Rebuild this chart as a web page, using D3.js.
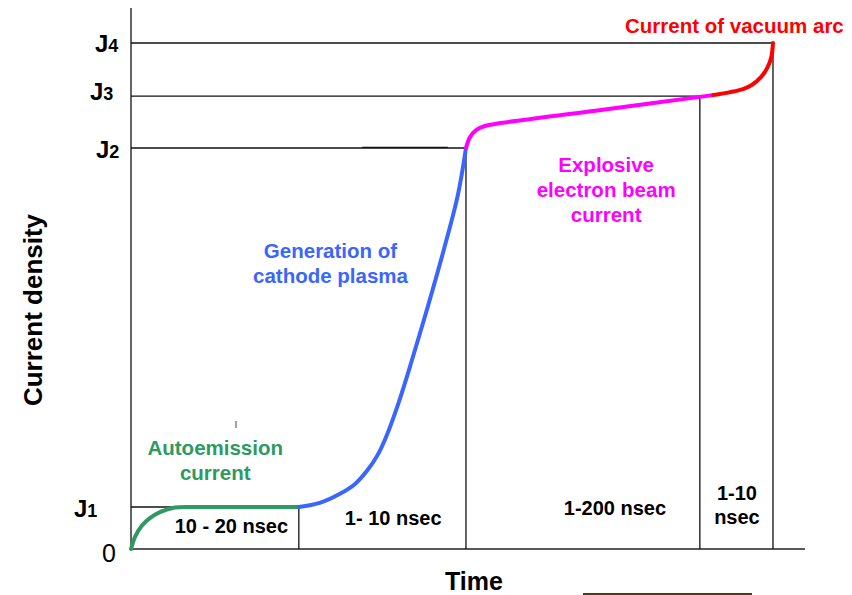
<!DOCTYPE html>
<html>
<head>
<meta charset="utf-8">
<script src="https://cdn.jsdelivr.net/npm/d3@7"></script>
<style>
  html, body { margin: 0; padding: 0; background: #fff; }
  svg { display: block; }
  text { font-family: "Liberation Sans", Arial, Helvetica, sans-serif; }
</style>
</head>
<body>
<svg id="chart" width="852" height="595"></svg>
<script>
// ---- data (arbitrary units: time 0..100, current density 0..100) ----
const levelNames = ["J1", "J2", "J3", "J4"];
const levelValues = [8.3, 79.25, 89.5, 100];
const levelEnds = [24.9, 49.7, 84.4, 95.25];   // time where each level line ends

const phaseBounds = [24.9, 49.7, 84.4, 95.25];  // vertical phase boundaries
const phaseBoundTops = [8.3, 79.25, 89.5, 100];

const phaseLabels = [
  { lines: ["10 - 20 nsec"], t: 14.9, j: [3.1] },
  { lines: ["1- 10 nsec"], t: 38.9, j: [4.7] },
  { lines: ["1-200 nsec"], t: 71.8, j: [6.7] },
  { lines: ["1-10", "nsec"], t: 89.9, j: [9.7, 5.0] }
];

const greenCurve = [[0,0],[0.6,2.4],[1.6,4.6],[2.8,6.1],[4.3,7.3],[6.5,8.2],[10,8.3],[24.9,8.3]];
const blueCurve = [[24.9,8.3],[28.0,9.1],[31.0,10.9],[33.2,12.8],[35.1,15.6],[36.6,18.6],[37.8,22.0],[39.6,28.5],[41.7,37.4],[44.1,48.2],[46.4,59.1],[48.5,70.0],[49.7,79.25]];
const magentaCurve = [[49.7,79.25],[50.3,81.4],[51.2,82.8],[52.5,83.6],[54.0,84.0],[70,86.8],[86.35,89.7]];
const redCurve = [[86.35,89.7],[90.8,90.9],[92.1,91.7],[93.5,93.3],[94.4,95.1],[95.0,97.2],[95.25,100]];

const curveColors = ["#2e9a62", "#3a66ff", "#ff00ff", "#ff0000"];

const annotations = [
  { lines: ["Autoemission", "current"], t: 12.5, j: [18.6, 13.6], color: "#2e9a62" },
  { lines: ["Generation of", "cathode plasma"], t: 29.6, j: [57.5, 52.6], color: "#3a66ff" },
  { lines: ["Explosive", "electron beam", "current"], t: 70.5, j: [74.5, 69.6, 64.6], color: "#ff00ff" }
];
const arcLabel = { text: "Current of vacuum arc", t: 73.3, j: 101.98, color: "#ff0000" };

// ---- scales ----
const svg = d3.select("#chart");
const x = d3.scaleLinear().domain([0, 100]).range([131, 805]);
const y = d3.scaleLinear().domain([0, 100]).range([549, 43]);

// ---- axes (plain lines) ----
svg.append("line").attr("x1", x(0)).attr("x2", x(0)).attr("y1", y(0)).attr("y2", y(106.9))
  .attr("stroke", "#222").attr("stroke-width", 1.4);
svg.append("line").attr("x1", x(0)).attr("x2", x(100)).attr("y1", y(0)).attr("y2", y(0))
  .attr("stroke", "#222").attr("stroke-width", 1.4);

// level lines
svg.selectAll("line.level").data(levelValues).join("line").attr("class", "level")
  .attr("x1", x(0)).attr("x2", (d, i) => x(levelEnds[i]))
  .attr("y1", d => y(d)).attr("y2", d => y(d))
  .attr("stroke", "#111").attr("stroke-width", 1.3);
// slight darker segment on J2 line
svg.append("line").attr("x1", x(34.3)).attr("x2", x(47.0))
  .attr("y1", y(levelValues[1]) - 0.7).attr("y2", y(levelValues[1]) - 0.7)
  .attr("stroke", "#111").attr("stroke-width", 1.2);

// phase boundaries
svg.selectAll("line.bound").data(phaseBounds).join("line").attr("class", "bound")
  .attr("x1", d => x(d)).attr("x2", d => x(d))
  .attr("y1", y(0)).attr("y2", (d, i) => y(phaseBoundTops[i]))
  .attr("stroke", "#111").attr("stroke-width", 1.3);

// ---- curves ----
const line = d3.line().x(d => x(d[0])).y(d => y(d[1])).curve(d3.curveCatmullRom.alpha(0.5));
[greenCurve, blueCurve, magentaCurve, redCurve].forEach((c, i) => {
  svg.append("path").datum(c).attr("d", line)
    .attr("fill", "none").attr("stroke", curveColors[i])
    .attr("stroke-width", 4).attr("stroke-linecap", "round");
});

// ---- level labels ----
const labelX = [74, 96, 90, 95];
const labelBase = [517, 158, 100, 52];
levelNames.forEach((name, i) => {
  const t = svg.append("text").attr("x", labelX[i]).attr("y", labelBase[i])
    .style("font-weight", "bold").attr("fill", "#000");
  t.append("tspan").style("font-size", "24px").text(name[0]);
  t.append("tspan").style("font-size", "18px").text(name.slice(1));
});
svg.append("text").attr("x", 102).attr("y", 562).style("font-size", "25px").attr("fill", "#000").text("0");

// ---- phase duration labels ----
phaseLabels.forEach(p => {
  p.lines.forEach((l, k) => {
    svg.append("text").attr("x", x(p.t)).attr("y", y(p.j[k]))
      .attr("text-anchor", "middle").attr("font-size", 20).attr("font-weight", "bold")
      .attr("fill", "#000").text(l);
  });
});

// ---- annotations ----
annotations.forEach(a => {
  a.lines.forEach((l, k) => {
    svg.append("text").attr("x", x(a.t)).attr("y", y(a.j[k]))
      .attr("text-anchor", "middle").attr("font-size", 20.5).attr("font-weight", "bold")
      .attr("fill", a.color).text(l);
  });
});
svg.append("text").attr("x", x(arcLabel.t)).attr("y", y(arcLabel.j))
  .attr("font-size", 20.5).attr("font-weight", "bold").attr("fill", arcLabel.color).text(arcLabel.text);

// ---- axis titles ----
svg.append("text").attr("transform", "translate(42,310) rotate(-90)")
  .attr("text-anchor", "middle").attr("font-size", 26).attr("font-weight", "bold")
  .attr("fill", "#000").text("Current density");
svg.append("text").attr("x", 474).attr("y", 590)
  .attr("text-anchor", "middle").attr("font-size", 25).attr("font-weight", "bold")
  .attr("fill", "#000").text("Time");

// small stray marks from the original figure
svg.append("line").attr("x1", 236).attr("x2", 236).attr("y1", 421).attr("y2", 428)
  .attr("stroke", "#666").attr("stroke-width", 1.2);
svg.append("line").attr("x1", 583).attr("x2", 752).attr("y1", 594).attr("y2", 594)
  .attr("stroke", "#5a3524").attr("stroke-width", 2);
</script>
</body>
</html>
